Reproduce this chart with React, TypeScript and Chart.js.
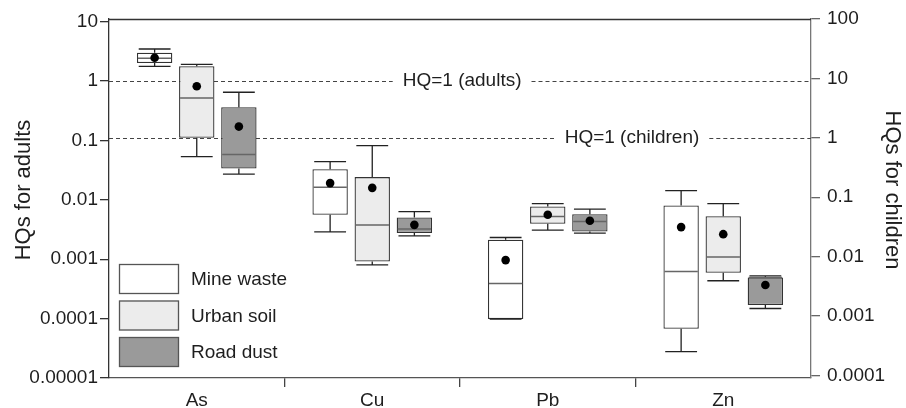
import React, { useEffect, useRef } from 'react';
import { Chart, registerables } from 'chart.js';

Chart.register(...registerables);

// ---------- data ----------
const categories = ['As', 'Cu', 'Pb', 'Zn'];
const seriesNames = ['Mine waste', 'Urban soil', 'Road dust'];

const mineWasteMin = [1.77, 0.00289, 0.0000984, 0.0000277];
const mineWasteQ1 = [2.01, 0.00559, 0.0000984, 0.0000675];
const mineWasteMedian = [2.41, 0.0163, 0.000391, 0.000621];
const mineWasteQ3 = [3.0, 0.0328, 0.00212, 0.00802];
const mineWasteMax = [3.46, 0.044, 0.00232, 0.0143];
const mineWasteMean = [2.47, 0.0191, 0.000966, 0.00347];

const urbanSoilMin = [0.0535, 0.000805, 0.00309, 0.000434];
const urbanSoilQ1 = [0.111, 0.000916, 0.00394, 0.000591];
const urbanSoilMedian = [0.519, 0.00375, 0.00522, 0.00109];
const urbanSoilQ3 = [1.77, 0.0241, 0.00771, 0.00531];
const urbanSoilMax = [1.91, 0.0818, 0.00865, 0.00865];
const urbanSoilMean = [0.817, 0.0159, 0.00559, 0.00264];

const roadDustMin = [0.027, 0.00248, 0.00275, 0.000148];
const roadDustQ1 = [0.0336, 0.00275, 0.00292, 0.000169];
const roadDustMedian = [0.0577, 0.00321, 0.00431, 0.000492];
const roadDustQ3 = [0.362, 0.00504, 0.00574, 0.000492];
const roadDustMax = [0.647, 0.00635, 0.00697, 0.000526];
const roadDustMean = [0.171, 0.00379, 0.00443, 0.000367];

const leftTickValues = [0.00001, 0.0001, 0.001, 0.01, 0.1, 1, 10];
const leftTickLabels = ['0.00001', '0.0001', '0.001', '0.01', '0.1', '1', '10'];
const rightTickValues = [0.0001, 0.001, 0.01, 0.1, 1, 10, 100];
const rightTickLabels = ['0.0001', '0.001', '0.01', '0.1', '1', '10', '100'];
const leftMin = 0.00001;
const leftMax = 11.07;
const rightMin = 0.0000904;
const rightMax = 100;

const hqAdultsValue = 1; // on the adults (left) axis
const hqChildrenValue = 1; // on the children (right) axis
const hqLabels = ['HQ=1 (adults)', 'HQ=1 (children)'];
const axisTitles = ['HQs for adults', 'HQs for children'];

// ---------- styles ----------
const FONT = '"Liberation Sans", Arial, Helvetica, sans-serif';
const fills = ['#ffffff', '#ececec', '#9a9a9a'];
const TEXT = '#1e1e1e';

const stats = [
  { min: mineWasteMin, q1: mineWasteQ1, med: mineWasteMedian, q3: mineWasteQ3, max: mineWasteMax, mean: mineWasteMean },
  { min: urbanSoilMin, q1: urbanSoilQ1, med: urbanSoilMedian, q3: urbanSoilQ3, max: urbanSoilMax, mean: urbanSoilMean },
  { min: roadDustMin, q1: roadDustQ1, med: roadDustMedian, q3: roadDustQ3, max: roadDustMax, mean: roadDustMean },
];

const boxPlugin = {
  id: 'boxExtras',
  beforeDatasetsDraw(chart: any) {
    const { ctx, chartArea: a, scales } = chart;
    ctx.save();
    // top frame line
    ctx.strokeStyle = '#333';
    ctx.lineWidth = 1.3;
    ctx.beginPath();
    ctx.moveTo(a.left, a.top + 0.5);
    ctx.lineTo(a.right, a.top + 0.5);
    ctx.stroke();

    const lines = [
      { y: scales.y.getPixelForValue(hqAdultsValue), text: hqLabels[0], cx: a.left + a.width * 0.503 },
      { y: scales.y2.getPixelForValue(hqChildrenValue), text: hqLabels[1], cx: a.left + a.width * 0.745 },
    ];
    ctx.font = `19px ${FONT}`;
    for (const l of lines) {
      const w = ctx.measureText(l.text).width;
      const gap = 10;
      const yy = Math.round(l.y) + 0.5;
      ctx.setLineDash([4, 3]);
      ctx.strokeStyle = '#444';
      ctx.lineWidth = 1;
      ctx.beginPath();
      ctx.moveTo(a.left, yy);
      ctx.lineTo(l.cx - w / 2 - gap, yy);
      ctx.moveTo(l.cx + w / 2 + gap, yy);
      ctx.lineTo(a.right, yy);
      ctx.stroke();
      ctx.setLineDash([]);
      ctx.fillStyle = TEXT;
      ctx.textAlign = 'center';
      ctx.textBaseline = 'middle';
      ctx.fillText(l.text, l.cx, l.y);
    }
    ctx.restore();
  },
  afterDatasetsDraw(chart: any) {
    const { ctx, chartArea: a, scales } = chart;
    const ys = scales.y;
    ctx.save();
    stats.forEach((s, d) => {
      const meta = chart.getDatasetMeta(d);
      meta.data.forEach((el: any, i: number) => {
        const x = el.x;
        const w = el.width;
        const capW = w * 0.9;
        const pMin = ys.getPixelForValue(s.min[i]);
        const pQ1 = ys.getPixelForValue(s.q1[i]);
        const pMed = ys.getPixelForValue(s.med[i]);
        const pQ3 = ys.getPixelForValue(s.q3[i]);
        const pMax = ys.getPixelForValue(s.max[i]);
        const pMean = ys.getPixelForValue(s.mean[i]);
        ctx.strokeStyle = '#222';
        ctx.lineWidth = 1.3;
        ctx.beginPath();
        // upper whisker
        ctx.moveTo(x, pQ3);
        ctx.lineTo(x, pMax);
        ctx.moveTo(x - capW / 2, pMax);
        ctx.lineTo(x + capW / 2, pMax);
        // lower whisker
        ctx.moveTo(x, pQ1);
        ctx.lineTo(x, pMin);
        ctx.moveTo(x - capW / 2, pMin);
        ctx.lineTo(x + capW / 2, pMin);
        ctx.stroke();
        // median
        ctx.strokeStyle = '#666';
        ctx.lineWidth = 1.5;
        ctx.beginPath();
        ctx.moveTo(x - w / 2 + 1, pMed);
        ctx.lineTo(x + w / 2 - 1, pMed);
        ctx.stroke();
        // mean
        ctx.fillStyle = '#000';
        ctx.beginPath();
        ctx.arc(x, pMean, 4.3, 0, Math.PI * 2);
        ctx.fill();
      });
    });

    // legend
    ctx.font = `19px ${FONT}`;
    ctx.textAlign = 'left';
    ctx.textBaseline = 'middle';
    const lx = a.left + 10;
    const boxW = 60;
    const boxH = 30;
    const step = 36.5;
    const ly0 = a.bottom - 11 - boxH - step * (seriesNames.length - 1);
    seriesNames.forEach((name, k) => {
      const y = ly0 + k * step;
      ctx.fillStyle = fills[k];
      ctx.fillRect(lx, y, boxW, boxH);
      ctx.strokeStyle = '#555';
      ctx.lineWidth = 1.3;
      ctx.strokeRect(lx + 0.5, y + 0.5, boxW - 1, boxH - 1);
      ctx.fillStyle = TEXT;
      ctx.fillText(name, lx + boxW + 12, y + boxH / 2 + 1);
    });

    // axis titles
    ctx.font = `22px ${FONT}`;
    ctx.textAlign = 'center';
    ctx.textBaseline = 'middle';
    ctx.fillStyle = TEXT;
    ctx.save();
    ctx.translate(24, 190);
    ctx.rotate(-Math.PI / 2);
    ctx.fillText(axisTitles[0], 0, 0);
    ctx.restore();
    ctx.save();
    ctx.translate(chart.width - 14, 190);
    ctx.rotate(Math.PI / 2);
    ctx.fillText(axisTitles[1], 0, 0);
    ctx.restore();
    ctx.restore();
  },
};

export default function App() {
  const ref = useRef<HTMLCanvasElement | null>(null);

  useEffect(() => {
    if (!ref.current) return;
    const chart = new Chart(ref.current, {
      type: 'bar',
      data: {
        labels: categories,
        datasets: stats.map((s, d) => ({
          label: seriesNames[d],
          data: s.q1.map((v, i) => [v, s.q3[i]]) as any,
          backgroundColor: fills[d],
          borderColor: '#333',
          borderWidth: 1.3,
          borderSkipped: false,
          categoryPercentage: 0.72,
          barPercentage: 0.84,
          yAxisID: 'y',
        })),
      },
      options: {
        animation: false,
        responsive: true,
        maintainAspectRatio: false,
        layout: { padding: { top: 19, left: 0, right: 0, bottom: 0 } },
        plugins: { legend: { display: false }, tooltip: { enabled: false } },
        scales: {
          x: {
            type: 'category',
            offset: true,
            grid: {
              offset: true,
              drawOnChartArea: false,
              drawTicks: true,
              tickLength: 9,
              color: (c: any) => (c.type !== 'tick' || c.index === 0 ? 'rgba(0,0,0,0)' : '#444'),
              lineWidth: 1.3,
            },
            border: { display: true, color: '#555', width: 1.3 },
            ticks: { font: { family: FONT, size: 19 }, color: TEXT, padding: 2 },
            afterFit: (s: any) => { s.height = 30; },
          },
          y: {
            type: 'logarithmic',
            position: 'left',
            min: leftMin,
            max: leftMax,
            afterBuildTicks: (s: any) => { s.ticks = leftTickValues.map((v) => ({ value: v })); },
            ticks: {
              font: { family: FONT, size: 19 },
              color: TEXT,
              padding: 2,
              autoSkip: false,
              callback: (v: any) => leftTickLabels[leftTickValues.indexOf(Number(v))] ?? '',
            },
            grid: { drawOnChartArea: false, drawTicks: true, tickLength: 9, color: '#333', lineWidth: 1.3 },
            border: { display: true, color: '#333', width: 1.3 },
            afterFit: (s: any) => { s.width = 109; },
          },
          y2: {
            type: 'logarithmic',
            position: 'right',
            min: rightMin,
            max: rightMax,
            afterBuildTicks: (s: any) => { s.ticks = rightTickValues.map((v) => ({ value: v })); },
            ticks: {
              font: { family: FONT, size: 19 },
              color: TEXT,
              padding: 7,
              autoSkip: false,
              callback: (v: any) => rightTickLabels[rightTickValues.indexOf(Number(v))] ?? '',
            },
            grid: { drawOnChartArea: false, drawTicks: true, tickLength: 9, color: '#666', lineWidth: 1.3 },
            border: { display: true, color: '#777', width: 1.3 },
            afterFit: (s: any) => { s.width = 95; },
          },
        },
      },
      plugins: [boxPlugin],
    });
    return () => chart.destroy();
  }, []);

  return (
    <div style={{ position: 'absolute', left: 0, top: 0, width: 906, height: 408, background: '#fff' }}>
      <canvas ref={ref} />
    </div>
  );
}
